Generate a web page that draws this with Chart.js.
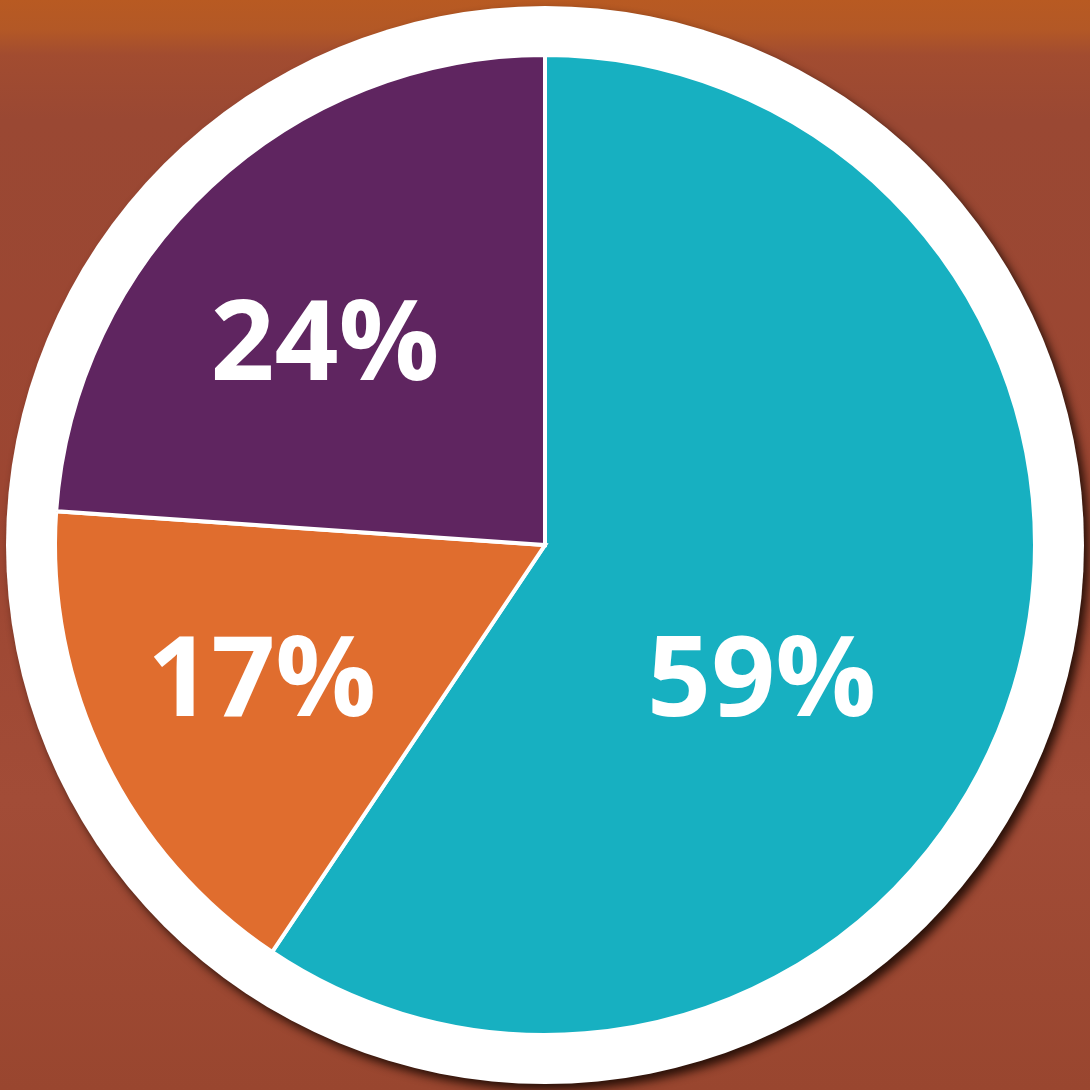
<!DOCTYPE html>
<html>
<head>
<meta charset="utf-8">
<script src="https://cdn.jsdelivr.net/npm/chart.js@4"></script>
<style>
  html, body { margin: 0; padding: 0; }
  body {
    width: 1090px; height: 1090px; overflow: hidden;
    background: linear-gradient(180deg, #b85a22 0px, #b35826 30px, #a24c30 55px, #9a4833 120px, #9c4632 500px, #a24c37 800px, #99462f 1090px);
  }
  #wrap { position: relative; width: 1090px; height: 1090px; }
</style>
</head>
<body>
<div id="wrap"><canvas id="pie" width="1090" height="1090"></canvas></div>
<script>
const labels = ["59%", "17%", "24%"];
// slice sizes (labels are the rounded values)
const values = [59.4, 16.7, 23.9];
const colors = ["#17b0c1", "#e06d2e", "#5f2560"];
// label centres, as fractions of radius from the pie centre
const labelOffsets = [[0.442, 0.267], [-0.578, 0.267], [-0.449, -0.418]];

const canvas = document.getElementById("pie");
const pieRadius = 490;
const ringWidth = 49;

const ringPlugin = {
  id: "ring",
  beforeDatasetsDraw(chart) {
    const arc = chart.getDatasetMeta(0).data[0];
    const ctx = chart.ctx;
    ctx.save();
    ctx.beginPath();
    ctx.arc(arc.x, arc.y, arc.outerRadius + ringWidth, 0, Math.PI * 2);
    ctx.fillStyle = "#ffffff";
    ctx.shadowColor = "rgba(35,14,6,0.95)";
    ctx.shadowBlur = 10;
    ctx.shadowOffsetX = 5;
    ctx.shadowOffsetY = 6;
    ctx.fill();
    ctx.restore();
  }
};

const labelPlugin = {
  id: "pctLabels",
  afterDatasetsDraw(chart) {
    const meta = chart.getDatasetMeta(0);
    const ctx = chart.ctx;
    const size = 112;
    ctx.save();
    ctx.font = "bold " + size + "px 'Open Sans'";
    ctx.fillStyle = "#ffffff";
    ctx.textAlign = "center";
    ctx.textBaseline = "alphabetic";
    meta.data.forEach((arc, i) => {
      const x = arc.x + labelOffsets[i][0] * arc.outerRadius;
      const y = arc.y + labelOffsets[i][1] * arc.outerRadius;
      ctx.fillText(labels[i], x, y + size * 0.714 / 2);
    });
    ctx.restore();
  }
};

new Chart(canvas, {
  type: "pie",
  data: {
    labels: labels,
    datasets: [
      {
        data: values,
        backgroundColor: colors,
        borderColor: "#ffffff",
        borderWidth: 4,
        borderJoinStyle: "miter"
      }
    ]
  },
  options: {
    responsive: false,
    animation: false,
    radius: pieRadius,
    layout: { padding: 0 },
    plugins: {
      legend: { display: false },
      tooltip: { enabled: false }
    }
  },
  plugins: [ringPlugin, labelPlugin]
});
</script>
</body>
</html>
